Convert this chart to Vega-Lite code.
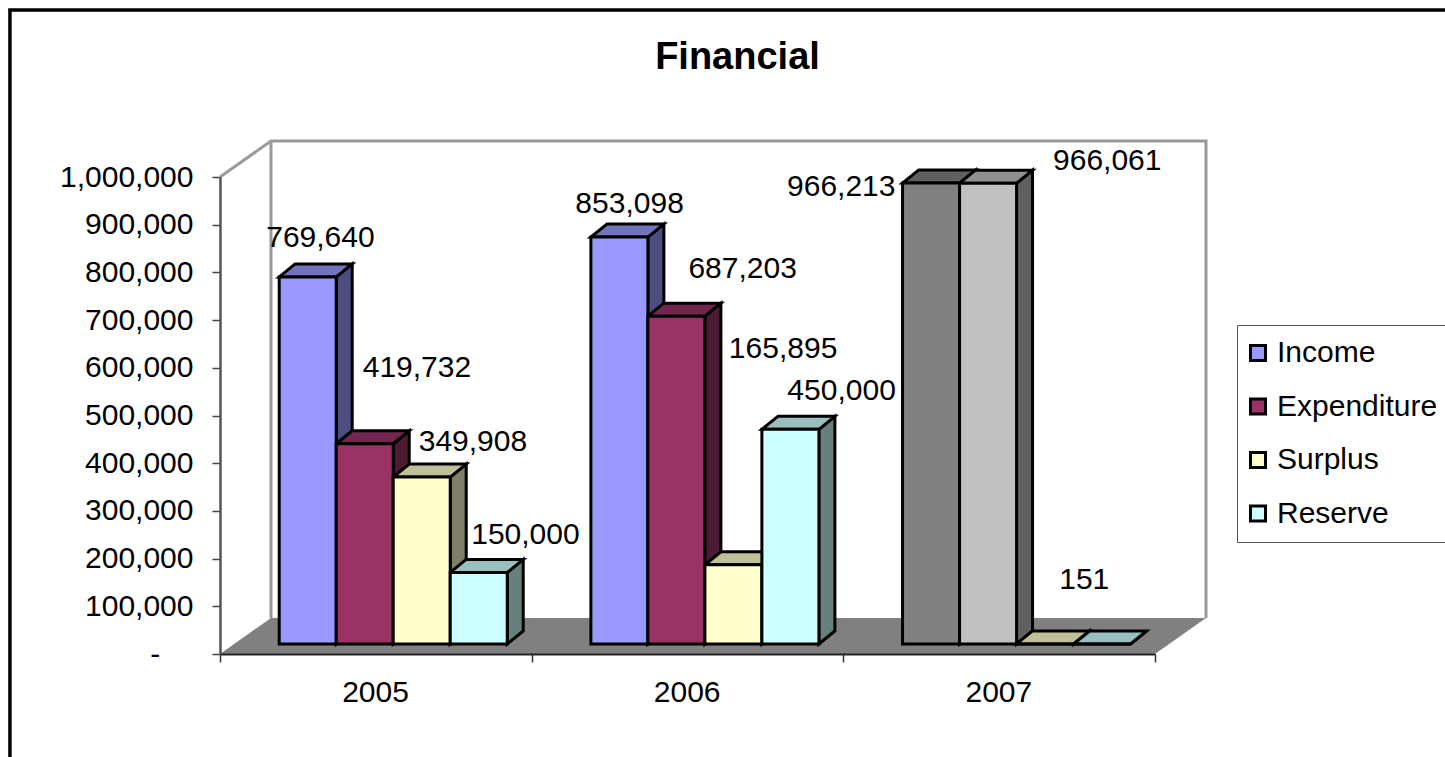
{
"$schema":"https://vega.github.io/schema/vega-lite/v6.json",
"width":935,"height":477,
"autosize":{"type":"none"},
"padding":{"left":220,"top":177,"right":290,"bottom":103},
"background":"white",
"config":{"view":{"stroke":null},"font":"Liberation Sans"},
"title":{"text":"Financial","font":"Liberation Sans","fontSize":38,"fontWeight":"bold","color":"black","anchor":"middle","dx":50,"offset":-69},
"datasets":{
"rows":[
{"year":2005,"series":"Income","value":769640},
{"year":2005,"series":"Expenditure","value":419732},
{"year":2005,"series":"Surplus","value":349908},
{"year":2005,"series":"Reserve","value":150000},
{"year":2006,"series":"Income","value":853098},
{"year":2006,"series":"Expenditure","value":687203},
{"year":2006,"series":"Surplus","value":165895},
{"year":2006,"series":"Reserve","value":450000},
{"year":2007,"series":"Income","value":966213},
{"year":2007,"series":"Expenditure","value":966061},
{"year":2007,"series":"Surplus","value":151},
{"year":2007,"series":"Reserve","value":0}
],
"floor":[
{"x":0,"x2":3,"y":0},
{"x":0.1636,"x2":3.1636,"y":75472}
],
"walls":[
{"part":"a","seq":1,"x":0,"y":1000000},
{"part":"a","seq":2,"x":0.1636,"y":1075472},
{"part":"a","seq":3,"x":3.1636,"y":1075472},
{"part":"a","seq":4,"x":3.1636,"y":75472},
{"part":"b","seq":1,"x":0.1636,"y":1075472},
{"part":"b","seq":2,"x":0.1636,"y":75472}
],
"outer":[{"x":-0.674,"x2":4.1,"y":1350000,"y2":-300000}]
},
"data":{"name":"rows"},
"transform":[
{"calculate":"indexof(['Income','Expenditure','Surplus','Reserve'],datum.series)","as":"i"},
{"calculate":"datum.year-2005+0.19+datum.i*0.1829","as":"x0"},
{"calculate":"datum.x0+0.1829","as":"x1"},
{"calculate":"datum.value+20964","as":"top"}
],
"encoding":{
"x":{"field":"x","type":"quantitative","title":null,
"scale":{"domain":[0,3],"nice":false,"zero":false},
"axis":{"values":[0,1,2,3],"grid":false,"zindex":1,"labelExpr":"datum.value<3?''+(2005+datum.value):''","labelOffset":155,"labelFlush":false,"labelOverlap":false,"labelFontSize":30,"labelColor":"black","labelPadding":15,"tickSize":8,"tickColor":"#333333","tickWidth":1.5,"domainColor":"#222222","domainWidth":2}},
"y":{"field":"y","type":"quantitative","title":null,
"scale":{"domain":[0,1000000],"nice":false,"zero":false},
"axis":{"values":[0,100000,200000,300000,400000,500000,600000,700000,800000,900000,1000000],"grid":false,"zindex":1,"labelExpr":"datum.value==0?'-\u00a0\u00a0\u00a0\u00a0\u200b':format(datum.value,',')","labelFontSize":30,"labelColor":"black","labelPadding":19,"labelOverlap":false,"labelFlush":false,"tickSize":8,"tickColor":"#444444","tickWidth":1.5,"domainColor":"#555555","domainWidth":2.5}}
},
"layer":[
{"data":{"name":"outer"},"mark":{"type":"rect","fill":"white","stroke":"black","strokeWidth":3.5},
 "encoding":{"x2":{"field":"x2"},"y2":{"field":"y2"}}},
{"data":{"name":"floor"},"mark":{"type":"area","orient":"horizontal","fill":"#808080"},
 "encoding":{"x2":{"field":"x2"}}},
{"data":{"name":"walls"},"mark":{"type":"line","stroke":"#999999","strokeWidth":3,"strokeJoin":"miter"},
 "encoding":{"detail":{"field":"part"},"order":{"field":"seq","type":"quantitative"}}},
{"transform":[
  {"calculate":"[0,1]","as":"t"},{"flatten":["t"]},
  {"calculate":"datum.x1+datum.t*0.0513","as":"x"},
  {"calculate":"datum.top+datum.t*27254","as":"y"},
  {"calculate":"20964+datum.t*27254","as":"y2b"}],
 "mark":{"type":"area","orient":"vertical","stroke":"black","strokeWidth":3,"strokeJoin":"miter"},
 "encoding":{"y2":{"field":"y2b"},"detail":{"field":"year"},
  "color":{"condition":[{"test":"datum.year==2007&&datum.series=='Income'","value":"#404040"},{"test":"datum.year==2007&&datum.series=='Expenditure'","value":"#606060"}],
   "field":"series","type":"nominal","legend":null,
   "scale":{"domain":["Income","Expenditure","Surplus","Reserve"],"range":["#4D4D80","#4D1A33","#808066","#668080"]}}}},
{"transform":[
  {"calculate":"[0,1]","as":"t"},{"flatten":["t"]},
  {"calculate":"datum.x0+datum.t*0.0513","as":"x"},
  {"calculate":"datum.x1+datum.t*0.0513","as":"x2b"},
  {"calculate":"datum.top+datum.t*27254","as":"y"}],
 "mark":{"type":"area","orient":"horizontal","stroke":"black","strokeWidth":3,"strokeJoin":"miter"},
 "encoding":{"x2":{"field":"x2b"},"detail":{"field":"year"},
  "color":{"condition":[{"test":"datum.year==2007&&datum.series=='Income'","value":"#606060"},{"test":"datum.year==2007&&datum.series=='Expenditure'","value":"#909090"}],
   "field":"series","type":"nominal","legend":null,
   "scale":{"domain":["Income","Expenditure","Surplus","Reserve"],"range":["#7373BF","#73264D","#BFBF99","#99BFBF"]}}}},
{"transform":[
  {"calculate":"datum.x0","as":"x"},
  {"calculate":"datum.top","as":"y"},
  {"calculate":"20964","as":"y2b"}],
 "mark":{"type":"rect","stroke":"black","strokeWidth":3},
 "encoding":{"x2":{"field":"x1"},"y2":{"field":"y2b"},
  "color":{"condition":[{"test":"datum.year==2007&&datum.series=='Income'","value":"#808080"},{"test":"datum.year==2007&&datum.series=='Expenditure'","value":"#C0C0C0"}],
   "field":"series","type":"nominal",
   "scale":{"domain":["Income","Expenditure","Surplus","Reserve"],"range":["#9999FF","#993366","#FFFFCC","#CCFFFF"]},
   "legend":{"title":null,"orient":"none","legendX":1017,"legendY":148,"fillColor":"white","strokeColor":"#555555","padding":13,"symbolType":"square","symbolSize":225,"symbolStrokeColor":"black","symbolStrokeWidth":3,"symbolOffset":-7,"labelFontSize":30,"labelColor":"black","labelOffset":4,"rowPadding":23.5,"labelLimit":300}}}},
{"transform":[
  {"filter":"datum.value>0"},
  {"calculate":"{'2005Income':[0.0417,81760],'2005Expenditure':[0.1684,159326],'2005Surplus':[0.1652,73374],'2005Reserve':[0.1508,77567],'2006Income':[0.0337,69181],'2006Expenditure':[0.2134,98531],'2006Surplus':[0.1604,452822],'2006Reserve':[0.1652,79663],'2007Income':[-0.2872,-8386],'2007Expenditure':[0.3834,46121],'2007Surplus':[0.1267,134170]}[datum.year+datum.series]","as":"shift"},
  {"calculate":"datum.x0+0.0905+datum.shift[0]","as":"x"},
  {"calculate":"datum.top+datum.shift[1]","as":"y"}],
 "mark":{"type":"text","align":"center","baseline":"middle","fontSize":30,"font":"Liberation Sans","color":"black"},
 "encoding":{"text":{"field":"value","type":"quantitative","format":","}}}
],
"resolve":{"scale":{"color":"independent"}}
}
